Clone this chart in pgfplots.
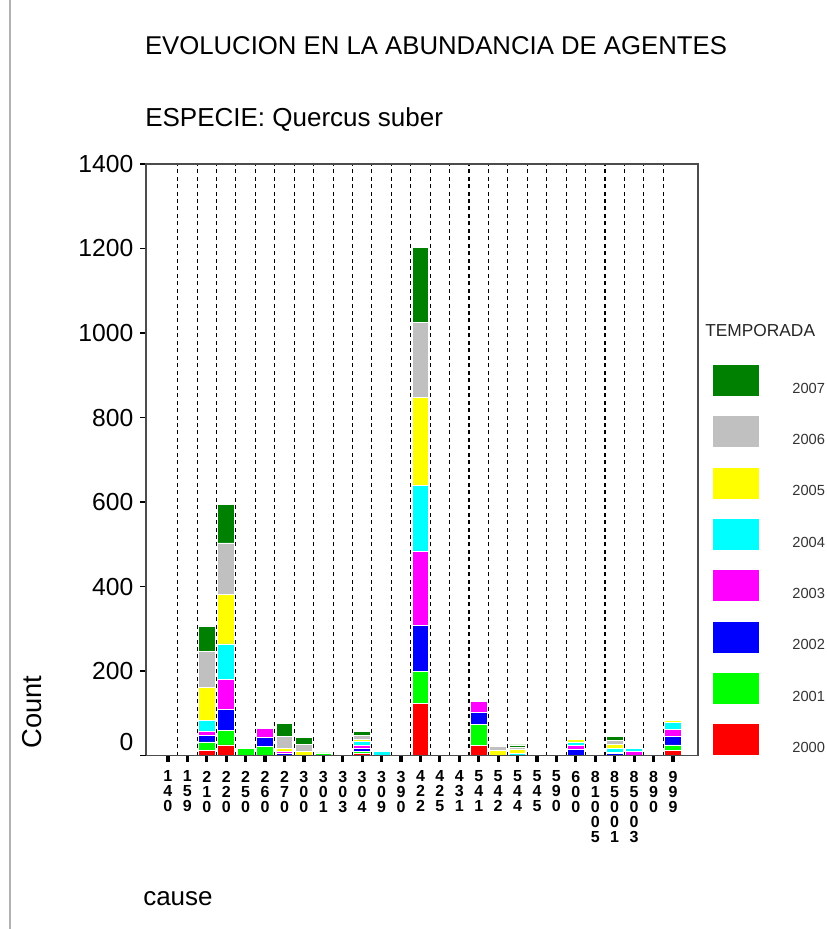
\documentclass[border=0pt]{standalone}
\usepackage{pgfplots}
\pgfplotsset{compat=1.18}
\usepackage{pgfplotstable}
\usepackage{fontspec}
\setmainfont{Liberation Sans}

\definecolor{c2000}{RGB}{255,0,0}
\definecolor{c2001}{RGB}{0,255,0}
\definecolor{c2002}{RGB}{0,0,255}
\definecolor{c2003}{RGB}{255,0,255}
\definecolor{c2004}{RGB}{0,255,255}
\definecolor{c2005}{RGB}{255,255,0}
\definecolor{c2006}{RGB}{192,192,192}
\definecolor{c2007}{RGB}{0,128,0}

% counts per cause code (idx = position on the x axis) and season
\pgfplotstableread{
idx y2000 y2001 y2002 y2003 y2004 y2005 y2006 y2007
0   0   0   0   0   0   0   0   0
1   0   0   0   0   0   0   0   0
2   11  21  16  10  25  79  85  59
3   25  34  49  71  85  118 121 91
4   0   16  0   0   0   0   0   0
5   0   22  21  20  0   0   0   0
6   0   0   5   5   0   6   29  31
7   0   0   0   0   0   10  16  17
8   0   6   0   0   0   0   0   0
9   0   0   0   0   0   0   0   0
10  5   5   6   7   11  3   10  11
11  0   0   0   0   10  0   0   0
12  0   0   0   0   0   0   0   0
13  124 75  109 176 156 208 176 179
14  0   0   0   0   0   0   0   0
15  0   0   0   0   0   0   0   0
16  23  51  28  27  0   0   0   0
17  0   0   0   0   0   12  10  0
18  0   0   0   0   5   10  4   6
19  0   0   0   0   0   0   0   0
20  0   0   0   0   0   0   0   0
21  0   0   14  10  8   5   0   0
22  0   0   0   0   0   0   0   0
23  0   0   5   3   8   10  9   10
24  0   0   0   10  6   0   0   0
25  0   0   0   0   0   0   0   0
26  12  13  21  15  18  5   0   0
}\agentes

\pgfplotsset{
  swatch/.style={legend image code/.code={%
      \fill[##1, draw=none] (0pt,-5.25pt) rectangle (34.5pt,18pt);}},
}

\begin{document}
\begin{tikzpicture}[x=0.75pt,y=-0.75pt]
\path[use as bounding box] (0,0) rectangle (827,929);
\draw[gray!60, line width=1.2pt] (10,0) -- (10,929);

\begin{axis}[
  at={(109.5pt,-566.625pt)}, anchor=south west,
  width=414pt, height=443.625pt, scale only axis,
  xmin=-1.13, xmax=27.29, ymin=0, ymax=1400,
  ybar stacked, bar width=12.5pt,
  axis on top,
  axis line style={black!70, line width=1.1pt},
  tick align=outside,
  xtick pos=bottom, ytick pos=left,
  major tick length=4.5pt,
  xtick style={line width=2.4pt, black},
  ytick style={line width=0.8pt, black},
  xtick={0,...,26},
  xticklabels={{1\\4\\0},{1\\5\\9},{2\\1\\0},{2\\2\\0},{2\\5\\0},{2\\6\\0},{2\\7\\0},
    {3\\0\\0},{3\\0\\1},{3\\0\\3},{3\\0\\4},{3\\0\\9},{3\\9\\0},{4\\2\\2},{4\\2\\5},
    {4\\3\\1},{5\\4\\1},{5\\4\\2},{5\\4\\4},{5\\4\\5},{5\\9\\0},{6\\0\\0},
    {8\\1\\0\\0\\5},{8\\5\\0\\0\\1},{8\\5\\0\\0\\3},{8\\9\\0},{9\\9\\9}},
  xticklabel style={font=\fontsize{12}{11.25}\selectfont\bfseries, align=center,
    anchor=north, yshift=-3.5pt},
  minor x tick num=1, minor tick length=0pt,
  xminorgrids=true,
  minor x grid style={black, line width=0.8pt, dash pattern=on 3pt off 2.6pt},
  ytick={200,400,...,1400},
  extra y ticks={0},
  extra y tick style={yticklabel style={yshift=10.5pt}},
  yticklabel style={font=\fontsize{18.5}{20}\selectfont, xshift=-1.5pt},
  /pgf/number format/assume math mode=true,
  /pgf/number format/set thousands separator={},
  legend cell align=left,
  reverse legend,
  legend style={at={(1.0272,0.6602)}, anchor=north west, draw=none, fill=none,
    inner sep=0pt, outer sep=0pt, row sep=15.25pt, column sep=25pt,
    nodes={inner sep=0pt, text=black!80, font=\fontsize{11}{13}\selectfont}},
]
\addplot[fill=c2000, draw=white, line width=0.6pt, swatch] table[x=idx, y=y2000] {\agentes};
\addplot[fill=c2001, draw=white, line width=0.6pt, swatch] table[x=idx, y=y2001] {\agentes};
\addplot[fill=c2002, draw=white, line width=0.6pt, swatch] table[x=idx, y=y2002] {\agentes};
\addplot[fill=c2003, draw=white, line width=0.6pt, swatch] table[x=idx, y=y2003] {\agentes};
\addplot[fill=c2004, draw=white, line width=0.6pt, swatch] table[x=idx, y=y2004] {\agentes};
\addplot[fill=c2005, draw=white, line width=0.6pt, swatch] table[x=idx, y=y2005] {\agentes};
\addplot[fill=c2006, draw=white, line width=0.6pt, swatch] table[x=idx, y=y2006] {\agentes};
\addplot[fill=c2007, draw=white, line width=0.6pt, swatch] table[x=idx, y=y2007] {\agentes};
\legend{2000,2001,2002,2003,2004,2005,2006,2007}
\end{axis}

\node[anchor=base, inner sep=0pt, font=\fontsize{19.3}{22}\selectfont]
  at (436,54) {EVOLUCION EN LA ABUNDANCIA DE AGENTES};
\node[anchor=base west, inner sep=0pt, font=\fontsize{19.5}{22}\selectfont]
  at (145,126) {ESPECIE: Quercus suber};
\node[rotate=90, inner sep=0pt, font=\fontsize{20.5}{23}\selectfont]
  at (32,712) {Count};
\node[anchor=base west, inner sep=0pt, font=\fontsize{19.5}{22}\selectfont]
  at (143,905) {cause};
\node[anchor=base west, inner sep=0pt, font=\fontsize{13}{15}\selectfont, text=black!85]
  at (705,336) {TEMPORADA};
\end{tikzpicture}
\end{document}
